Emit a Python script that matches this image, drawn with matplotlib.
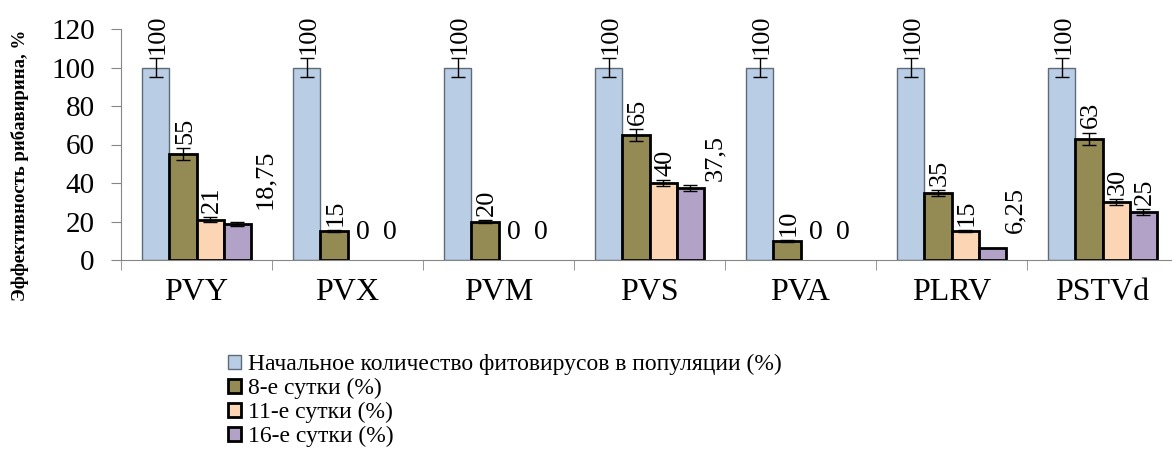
import matplotlib
matplotlib.use("Agg")
import matplotlib.pyplot as plt
import numpy as np

# data
viruses = ["PVY", "PVX", "PVM", "PVS", "PVA", "PLRV", "PSTVd"]
series_names = ["Начальное количество фитовирусов в популяции (%)",
                "8-е сутки (%)", "11-е сутки (%)", "16-е сутки (%)"]
initial = [100, 100, 100, 100, 100, 100, 100]
day8 = [55, 15, 20, 65, 10, 35, 63]
day11 = [21, 0, 0, 40, 0, 15, 30]
day16 = [18.75, 0, 0, 37.5, 0, 6.25, 25]
err_initial = [5, 5, 5, 5, 5, 5, 5]
err_day8 = [3, 0.6, 0.6, 3, 0.4, 1.5, 3.2]
err_day11 = [1.5, 0, 0, 1.5, 0, 0.6, 1.5]
err_day16 = [1, 0, 0, 1.5, 0, 0, 1.5]
labels_day16 = ["18,75", "0", "0", "37,5", "0", "6,25", "25"]

values = [initial, day8, day11, day16]
errors = [err_initial, err_day8, err_day11, err_day16]
colors = ["#B9CDE5", "#948A54", "#FCD5B5", "#B3A2C7"]
edges = ["#5F6B78", "black", "black", "black"]
edge_w = [1.0, 2.0, 2.0, 2.0]

# a few labels were dragged aside in the original (series, category) -> (dx, dy) in px
nudge = {(3, 0): (28, 9), (3, 3): (25, 0), (3, 5): (23, 11)}

plt.rcParams["font.family"] = ["Liberation Serif", "DejaVu Serif"]

fig = plt.figure(figsize=(11.72, 4.5), dpi=100)
ax = fig.add_axes([121 / 1172, 190 / 450, 1057 / 1172, 231 / 450])

x = np.arange(len(viruses))
w = 0.18
for i in range(4):
    pos = x + (i - 1.5) * w
    vals = np.array(values[i], dtype=float)
    errs = np.array(errors[i], dtype=float)
    lw = [edge_w[i] if v > 0 else 0 for v in vals]
    ax.bar(pos, vals, w, color=colors[i], edgecolor=edges[i],
           linewidth=lw, label=series_names[i], zorder=2)
    has_err = errs > 0
    ax.errorbar(pos[has_err], vals[has_err], yerr=errs[has_err], fmt="none",
                ecolor="black", elinewidth=1, capsize=5, capthick=1, zorder=3)
    for j in range(len(viruses)):
        v = values[i][j]
        if i == 3:
            txt = labels_day16[j]
        else:
            txt = str(v)
        dx, dy = nudge.get((i, j), (2, 0))
        if v == 0:
            ax.annotate(txt, (pos[j], 0), xytext=(dx * 0.72, 11),
                        textcoords="offset points", ha="center", va="bottom",
                        fontsize=20)
        else:
            ax.annotate(txt, (pos[j], v + errors[i][j]),
                        xytext=(dx * 0.72, 3 + dy * 0.72),
                        textcoords="offset points", ha="center", va="bottom",
                        rotation=90, fontsize=19)

ax.set_xlim(-0.5, len(viruses) - 0.5)
ax.set_ylim(0, 120)
ax.set_yticks(range(0, 121, 20))
ax.set_xticks(x)
ax.set_xticklabels(viruses, fontsize=23)
ax.set_xticks(np.arange(-0.5, len(viruses)), minor=True)
ax.tick_params(axis="x", which="major", length=0, pad=13)
ax.tick_params(axis="x", which="minor", length=7, color="#868686", direction="out")
ax.tick_params(axis="y", length=7, color="#868686", labelsize=21, pad=12)
for s in ["top", "right"]:
    ax.spines[s].set_visible(False)
for s in ["left", "bottom"]:
    ax.spines[s].set_color("#868686")
ax.spines["left"].set_zorder(1)

fig.text(0.017, 0.633, "Эффективность рибавирина, %", rotation=90,
         fontsize=13.5, fontweight="bold", ha="center", va="center")

fig.legend(loc="upper left", bbox_to_anchor=(228 / 1172, 96 / 450),
           frameon=False, fontsize=17, handlelength=0.55, handleheight=0.55,
           handletextpad=0.3, labelspacing=0.12, borderpad=0, borderaxespad=0)

fig.savefig("out.png", dpi=100)
